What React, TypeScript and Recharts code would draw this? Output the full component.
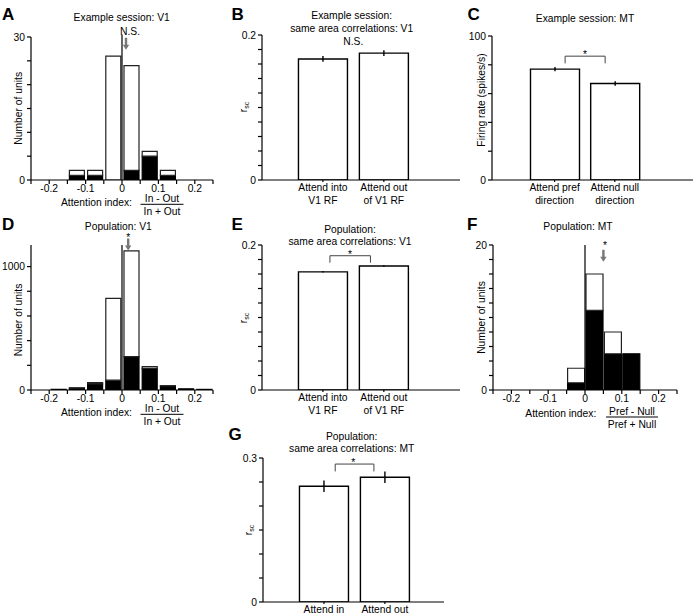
import React from 'react';
import {
  ComposedChart,
  Bar,
  XAxis,
  YAxis,
  ReferenceLine,
  ReferenceDot,
  ErrorBar,
} from 'recharts';

const FONT = '"Liberation Sans", Arial, Helvetica, sans-serif';
const W = 700;
const H = 616;

// histogram bins (attention index), shared by A, D and F
const binCenters = [-0.225, -0.175, -0.125, -0.075, -0.025, 0.025, 0.075, 0.125, 0.175, 0.225];
const histTicks = [-0.25, -0.2, -0.15, -0.1, -0.05, 0, 0.05, 0.1, 0.15, 0.2, 0.25];
const histTickLabels = ['', '-0.2', '', '-0.1', '', '0', '', '0.1', '', '0.2', ''];

// A: example session V1
const aTotal = [0, 0, 2, 2, 26, 24, 6, 2, 0, 0];
const aFilled = [0, 0, 1, 1, 0, 2, 5, 1, 0, 0];
const aYTicks = [0, 5, 10, 15, 20, 25, 30];
const aYLabels = ['0', '', '', '', '', '', '30'];

// D: population V1
const dTotal = [0, 6, 18, 60, 743, 1127, 189, 35, 10, 5];
const dFilled = [0, 6, 16, 50, 80, 270, 176, 33, 10, 5];
const dYTicks = [0, 200, 400, 600, 800, 1000];
const dYLabels = ['0', '', '', '', '', '1000'];

// F: population MT
const fTotal = [0, 0, 0, 0, 3, 16, 8, 5, 0, 0];
const fFilled = [0, 0, 0, 0, 1, 11, 5, 5, 0, 0];
const fYTicks = [0, 2, 4, 6, 8, 10, 12, 14, 16, 18, 20];
const fYLabels = ['0', '', '', '', '', '', '', '', '', '', '20'];

// B / E: same area correlations V1
const v1Cats = ['Attend into\nV1 RF', 'Attend out\nof V1 RF'];
const bMeans = [0.167, 0.175];
const bErr = [0.004, 0.004];
const eMeans = [0.163, 0.171];
const eErr = [0.001, 0.001];
const rscTicks = [0, 0.02, 0.04, 0.06, 0.08, 0.1, 0.12, 0.14, 0.16, 0.18, 0.2];
const rscLabels = ['0', '', '', '', '', '', '', '', '', '', '0.2'];

// C: example session MT firing rate
const cCats = ['Attend pref\ndirection', 'Attend null\ndirection'];
const cMeans = [77, 67];
const cErr = [1.5, 1.5];
const cYTicks = [0, 20, 40, 60, 80, 100];
const cYLabels = ['0', '', '', '', '', '100'];

// G: same area correlations MT
const gCats = ['Attend in', 'Attend out'];
const gMeans = [0.241, 0.26];
const gErr = [0.012, 0.012];
const gYTicks = [0, 0.05, 0.1, 0.15, 0.2, 0.25, 0.3];
const gYLabels = ['0', '', '', '', '', '', '0.3'];

const tickText = { fill: '#000', fontSize: 10.3, fontFamily: FONT };
const axisStyle = { stroke: '#000', strokeWidth: 1.2 };

const labelFor = (ticks: number[], labels: string[]) => (v: number) => {
  const i = ticks.findIndex((t) => Math.abs(t - v) < 1e-9);
  return i >= 0 ? labels[i] : '';
};

const ArrowDown = (props: any) => {
  const { cx, cy } = props;
  return (
    <path
      d={`M${cx - 1.2} ${cy - 12} L${cx + 1.2} ${cy - 12} L${cx + 1.2} ${cy - 5} L${cx + 3.2} ${cy - 5} L${cx} ${cy} L${cx - 3.2} ${cy - 5} L${cx - 1.2} ${cy - 5} Z`}
      fill="#777"
    />
  );
};

const makeCatTick = (cats: string[]) => (props: any) => {
  const { x, y, payload } = props;
  const lines = cats[Math.round(payload.value) - 1].split('\n');
  return (
    <text x={x} y={y} textAnchor="middle" fontSize={10.3} fontFamily={FONT} fill="#000">
      {lines.map((l, i) => (
        <tspan key={i} x={x} dy={i === 0 ? '0.71em' : 13}>
          {l}
        </tspan>
      ))}
    </text>
  );
};

type Box = { l: number; t: number; r: number; b: number };
// axes get 1px of room so that recharts draws them
const AX = 1;
const marginOf = (box: Box) => ({ left: box.l - AX, top: box.t, right: W - box.r, bottom: H - box.b - AX });

const Layer: React.FC<{ children: React.ReactNode }> = ({ children }) => (
  <div style={{ position: 'absolute', left: 0, top: 0 }}>{children}</div>
);

interface HistProps {
  total: number[];
  filled: number[];
  box: Box;
  yMax: number;
  yTicks: number[];
  yLabels: string[];
  zeroTop: number;
  arrowX: number;
  arrowY: number;
  barSize: number;
}

const HistPanel: React.FC<HistProps> = ({ total, filled, box, yMax, yTicks, yLabels, zeroTop, arrowX, arrowY, barSize }) => {
  const data = binCenters.map((x, i) => ({ x, filled: filled[i], rest: total[i] - filled[i] }));
  return (
    <Layer>
      <ComposedChart width={W} height={H} data={data} margin={marginOf(box)}>
        <XAxis
          dataKey="x"
          type="number"
          domain={[-0.25, 0.25]}
          ticks={histTicks}
          interval={0}
          tickFormatter={labelFor(histTicks, histTickLabels)}
          height={AX}
          tickSize={4}
          tickMargin={1}
          axisLine={axisStyle}
          tickLine={axisStyle}
          tick={tickText}
          allowDataOverflow
        />
        <YAxis
          type="number"
          domain={[0, yMax]}
          ticks={yTicks}
          interval={0}
          tickFormatter={labelFor(yTicks, yLabels)}
          width={AX}
          tickSize={4}
          tickMargin={2}
          axisLine={axisStyle}
          tickLine={axisStyle}
          tick={tickText}
          allowDataOverflow
        />
        <Bar dataKey="filled" stackId="s" fill="#000" stroke="#000" strokeWidth={1.2} barSize={barSize} isAnimationActive={false} />
        <Bar dataKey="rest" stackId="s" fill="#fff" stroke="#222" strokeWidth={1.2} barSize={barSize} isAnimationActive={false} />
        <ReferenceLine segment={[{ x: 0, y: 0 }, { x: 0, y: zeroTop }]} stroke="#000" strokeWidth={1.2} ifOverflow="visible" />
        <ReferenceDot x={arrowX} y={arrowY} r={0} ifOverflow="visible" shape={ArrowDown} />
      </ComposedChart>
    </Layer>
  );
};

interface BarProps {
  cats: string[];
  means: number[];
  errs: number[];
  box: Box;
  xDomain: [number, number];
  yMax: number;
  yTicks: number[];
  yLabels: string[];
  bracket?: { x1: number; x2: number; top: number; foot: number };
}

const BarPanel: React.FC<BarProps> = ({ cats, means, errs, box, xDomain, yMax, yTicks, yLabels, bracket }) => {
  const data = means.map((v, i) => ({ x: i + 1, v, err: errs[i] }));
  const br = { stroke: '#444', strokeWidth: 1, ifOverflow: 'visible' as const };
  return (
    <Layer>
      <ComposedChart width={W} height={H} data={data} margin={marginOf(box)}>
        <XAxis
          dataKey="x"
          type="number"
          domain={xDomain}
          ticks={[1, 2]}
          interval={0}
          height={AX}
          tickSize={2}
          tickMargin={2}
          axisLine={axisStyle}
          tickLine={axisStyle}
          tick={makeCatTick(cats)}
          allowDataOverflow
        />
        <YAxis
          type="number"
          domain={[0, yMax]}
          ticks={yTicks}
          interval={0}
          tickFormatter={labelFor(yTicks, yLabels)}
          width={AX}
          tickSize={4}
          tickMargin={2}
          axisLine={axisStyle}
          tickLine={axisStyle}
          tick={tickText}
          allowDataOverflow
        />
        <Bar dataKey="v" fill="#fff" stroke="#000" strokeWidth={1.4} barSize={49} isAnimationActive={false}>
          <ErrorBar dataKey="err" width={0} stroke="#000" strokeWidth={1.4} isAnimationActive={false} />
        </Bar>
        {bracket && (
          <ReferenceLine segment={[{ x: bracket.x1, y: bracket.foot }, { x: bracket.x1, y: bracket.top }]} {...br} />
        )}
        {bracket && (
          <ReferenceLine segment={[{ x: bracket.x1, y: bracket.top }, { x: bracket.x2, y: bracket.top }]} {...br} />
        )}
        {bracket && (
          <ReferenceLine segment={[{ x: bracket.x2, y: bracket.top }, { x: bracket.x2, y: bracket.foot }]} {...br} />
        )}
      </ComposedChart>
    </Layer>
  );
};

const T: React.FC<{ x: number; y: number; children: React.ReactNode; rot?: boolean; anchor?: 'start' | 'middle' | 'end'; size?: number; bold?: boolean; base?: boolean }> = ({
  x, y, children, rot, anchor = 'middle', size = 10.3, bold, base,
}) => (
  <text
    x={x}
    y={y}
    textAnchor={anchor}
    dominantBaseline={base ? 'alphabetic' : 'central'}
    fontSize={size}
    fontWeight={bold ? 'bold' : 'normal'}
    fontFamily={FONT}
    fill="#000"
    transform={rot ? `rotate(-90 ${x} ${y})` : undefined}
  >
    {children}
  </text>
);

const Rsc: React.FC<{ x: number; y: number }> = ({ x, y }) => (
  <text x={x} y={y} textAnchor="middle" dominantBaseline="central" fontSize={10.3} fontFamily={FONT} fill="#000" transform={`rotate(-90 ${x} ${y})`}>
    r<tspan fontSize={7} dy={3}>sc</tspan>
  </text>
);

const Star: React.FC<{ x: number; y: number }> = ({ x, y }) => (
  <T x={x} y={y + 6} base>*</T>
);

const Frac: React.FC<{ x: number; y: number; w: number; top: string; bottom: string }> = ({ x, y, w, top, bottom }) => (
  <g>
    <T x={x} y={y - 5.5}>{top}</T>
    <line x1={x - w / 2} x2={x + w / 2} y1={y} y2={y} stroke="#000" strokeWidth={1} />
    <T x={x} y={y + 7}>{bottom}</T>
  </g>
);

const Overlay = () => (
  <svg width={W} height={H} style={{ position: 'absolute', left: 0, top: 0, pointerEvents: 'none' }}>
    <T x={2} y={20} anchor="start" size={17} bold base>A</T>
    <T x={231.5} y={20} anchor="start" size={17} bold base>B</T>
    <T x={467.5} y={20} anchor="start" size={17} bold base>C</T>
    <T x={2} y={230} anchor="start" size={17} bold base>D</T>
    <T x={231.5} y={230} anchor="start" size={17} bold base>E</T>
    <T x={467} y={230} anchor="start" size={17} bold base>F</T>
    <T x={228.5} y={440} anchor="start" size={17} bold base>G</T>

    <T x={121.7} y={17.3}>Example session: V1</T>
    <T x={130} y={31.7}>N.S.</T>
    <T x={351.7} y={15}>Example session:</T>
    <T x={351.7} y={28.3}>same area correlations: V1</T>
    <T x={353.3} y={41.7}>N.S.</T>
    <T x={585} y={18.3}>Example session: MT</T>
    <Star x={585} y={51.7} />

    <T x={118.3} y={226.7}>Population: V1</T>
    <Star x={128.3} y={235} />
    <T x={350} y={229}>Population:</T>
    <T x={350} y={241.7}>same area correlations: V1</T>
    <Star x={350} y={251.7} />
    <T x={578} y={226.7}>Population: MT</T>
    <Star x={605} y={243.3} />

    <T x={351.7} y={436.7}>Population:</T>
    <T x={351.7} y={448.3}>same area correlations: MT</T>
    <Star x={353.3} y={460} />

    <T x={18.3} y={108.3} rot>Number of units</T>
    <Rsc x={243.3} y={107} />
    <T x={481.7} y={100} rot>Firing rate (spikes/s)</T>
    <T x={18.3} y={320} rot>Number of units</T>
    <Rsc x={243.3} y={318} />
    <T x={481.7} y={317.5} rot>Number of units</T>
    <Rsc x={248.3} y={530} />

    <T x={96.5} y={202}>Attention index:</T>
    <Frac x={162} y={204.3} w={43} top="In - Out" bottom="In + Out" />
    <T x={96.5} y={412}>Attention index:</T>
    <Frac x={162} y={414.3} w={43} top="In - Out" bottom="In + Out" />
    <T x={560.8} y={413.3}>Attention index:</T>
    <Frac x={632} y={417} w={52} top="Pref - Null" bottom="Pref + Null" />
  </svg>
);

export default function App() {
  return (
    <div style={{ position: 'absolute', left: 0, top: 0, width: W, height: H, background: '#fff', fontFamily: FONT }}>
      <HistPanel total={aTotal} filled={aFilled} box={{ l: 31, t: 37, r: 213, b: 180 }} yMax={30} yTicks={aYTicks} yLabels={aYLabels} zeroTop={30.5} arrowX={0.011} arrowY={27.3} barSize={15} />
      <HistPanel total={dTotal} filled={dFilled} box={{ l: 31, t: 245, r: 213, b: 390 }} yMax={1175} yTicks={dYTicks} yLabels={dYLabels} zeroTop={1175} arrowX={0.017} arrowY={1130} barSize={15} />
      <HistPanel total={fTotal} filled={fFilled} box={{ l: 493, t: 245, r: 677, b: 390 }} yMax={20} yTicks={fYTicks} yLabels={fYLabels} zeroTop={20} arrowX={0.05} arrowY={17.7} barSize={17} />

      <BarPanel cats={v1Cats} means={bMeans} errs={bErr} box={{ l: 262, t: 35, r: 460, b: 180 }} xDomain={[0, 3.25]} yMax={0.2} yTicks={rscTicks} yLabels={rscLabels} />
      <BarPanel cats={cCats} means={cMeans} errs={cErr} box={{ l: 492, t: 36, r: 693, b: 180 }} xDomain={[-0.04, 3.3]} yMax={100} yTicks={cYTicks} yLabels={cYLabels} bracket={{ x1: 1.175, x2: 1.84, top: 86, foot: 81 }} />
      <BarPanel cats={v1Cats} means={eMeans} errs={eErr} box={{ l: 262, t: 245, r: 460, b: 390 }} xDomain={[0, 3.25]} yMax={0.2} yTicks={rscTicks} yLabels={rscLabels} bracket={{ x1: 1.115, x2: 1.78, top: 0.1852, foot: 0.1756 }} />
      <BarPanel cats={gCats} means={gMeans} errs={gErr} box={{ l: 263, t: 458, r: 444, b: 602 }} xDomain={[0, 2.97]} yMax={0.3} yTicks={gYTicks} yLabels={gYLabels} bracket={{ x1: 1.185, x2: 1.82, top: 0.2874, foot: 0.272 }} />

      <Overlay />
    </div>
  );
}
